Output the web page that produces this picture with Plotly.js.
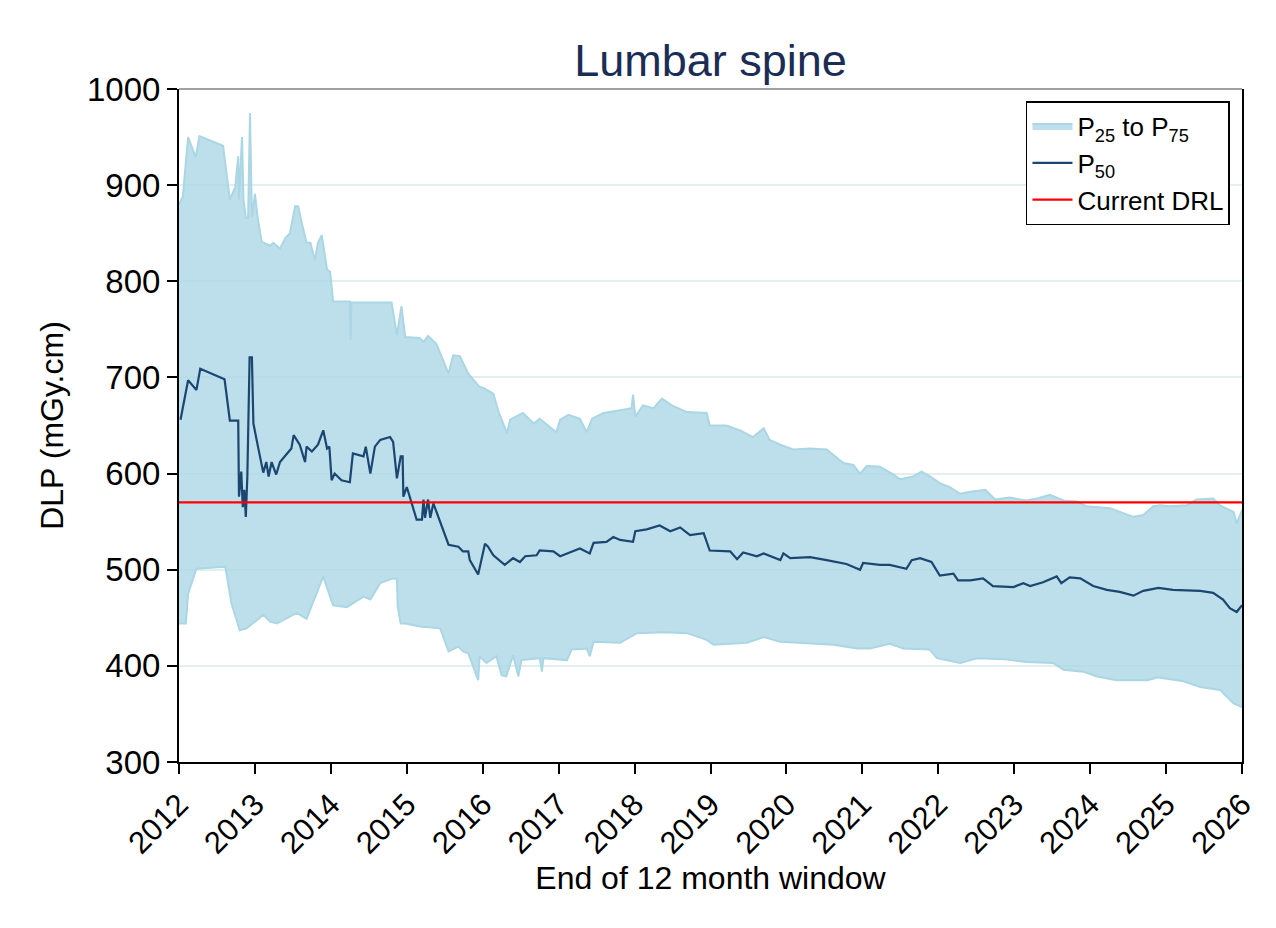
<!DOCTYPE html>
<html>
<head>
<meta charset="utf-8">
<script src="https://cdn.plot.ly/plotly-3.0.1.min.js"></script>
<style>
  html, body { margin: 0; padding: 0; background: #fff; }
  #plot { width: 1276px; height: 928px; }
</style>
</head>
<body>
<div id="plot"></div>
<script>
// values (x = decimal year at end of 12 month window)
const p75Years = [2012.00, 2012.05, 2012.12, 2012.22, 2012.27, 2012.58, 2012.67, 2012.74, 2012.78, 2012.79,
  2012.83, 2012.85, 2012.88, 2012.91, 2012.935, 2012.96, 2013.00, 2013.04, 2013.09, 2013.20,
  2013.24, 2013.33, 2013.40, 2013.46, 2013.53, 2013.57, 2013.62, 2013.68, 2013.73, 2013.79,
  2013.83, 2013.88, 2013.95, 2013.99, 2014.03, 2014.25, 2014.26, 2014.27, 2014.80, 2014.87,
  2014.93, 2014.98, 2015.17, 2015.22, 2015.28, 2015.39, 2015.55, 2015.61, 2015.70, 2015.81,
  2015.96, 2016.01, 2016.14, 2016.21, 2016.32, 2016.36, 2016.53, 2016.67, 2016.75, 2016.97,
  2017.02, 2017.13, 2017.28, 2017.37, 2017.44, 2017.59, 2017.81, 2017.96, 2017.98, 2018.01,
  2018.11, 2018.25, 2018.36, 2018.49, 2018.69, 2018.95, 2018.99, 2019.21, 2019.39, 2019.56,
  2019.70, 2019.78, 2019.92, 2020.09, 2020.31, 2020.53, 2020.75, 2020.88, 2020.97, 2021.06,
  2021.23, 2021.41, 2021.50, 2021.67, 2021.78, 2021.89, 2022.02, 2022.15, 2022.29, 2022.42,
  2022.62, 2022.75, 2022.94, 2023.16, 2023.30, 2023.47, 2023.65, 2023.82, 2023.95, 2024.17,
  2024.26, 2024.57, 2024.70, 2024.83, 2024.92, 2025.05, 2025.27, 2025.40, 2025.62, 2025.71,
  2025.89, 2025.93, 2026.00];
const p75Values = [880, 888, 950, 929, 951, 941, 885, 898, 930, 885,
  950, 885, 866, 866, 975, 867, 891, 864, 841, 837,
  840, 834, 845, 850, 878, 878, 860, 840, 840, 822,
  840, 848, 812, 810, 779, 779, 739, 778, 778, 744,
  774, 742, 741, 737, 743, 735, 704, 723, 722, 704,
  690, 689, 683, 664, 642, 656, 663, 652, 657, 643,
  656, 661, 657, 643, 657, 663, 666, 668, 682, 659,
  671, 668, 678, 671, 664, 663, 650, 650, 645, 638,
  647, 635, 630, 625, 626, 625, 611, 609, 600, 608,
  607, 599, 594, 597, 602, 597, 590, 586, 579, 581,
  583, 573, 575, 572, 574, 578, 572, 571, 566, 565,
  564, 555, 557, 566, 567, 566, 567, 573, 574, 567,
  560, 548, 562];

const p50Years = [2012.02, 2012.12, 2012.23, 2012.28, 2012.60, 2012.67, 2012.78, 2012.79, 2012.82, 2012.84,
  2012.86, 2012.88, 2012.90, 2012.93, 2012.96, 2012.98, 2013.04, 2013.11, 2013.15, 2013.18,
  2013.22, 2013.28, 2013.33, 2013.48, 2013.51, 2013.59, 2013.66, 2013.68, 2013.75, 2013.83,
  2013.90, 2013.95, 2013.98, 2014.01, 2014.05, 2014.14, 2014.25, 2014.29, 2014.43, 2014.46,
  2014.52, 2014.58, 2014.65, 2014.78, 2014.82, 2014.87, 2014.92, 2014.945, 2014.955, 2015.00,
  2015.13, 2015.20, 2015.22, 2015.24, 2015.28, 2015.31, 2015.35, 2015.55, 2015.68, 2015.74,
  2015.81, 2015.83, 2015.94, 2016.03, 2016.07, 2016.14, 2016.29, 2016.40, 2016.49, 2016.56,
  2016.71, 2016.75, 2016.93, 2017.02, 2017.28, 2017.41, 2017.46, 2017.63, 2017.72, 2017.81,
  2017.98, 2018.01, 2018.16, 2018.33, 2018.47, 2018.60, 2018.73, 2018.91, 2018.99, 2019.26,
  2019.35, 2019.43, 2019.61, 2019.70, 2019.92, 2019.96, 2020.05, 2020.31, 2020.53, 2020.79,
  2020.97, 2021.01, 2021.23, 2021.36, 2021.58, 2021.65, 2021.76, 2021.91, 2022.02, 2022.20,
  2022.26, 2022.42, 2022.59, 2022.72, 2022.99, 2023.12, 2023.21, 2023.38, 2023.56, 2023.62,
  2023.73, 2023.87, 2024.04, 2024.22, 2024.39, 2024.57, 2024.70, 2024.90, 2025.09, 2025.45,
  2025.62, 2025.75, 2025.84, 2025.93, 2026.00];
const p50Values = [656, 697, 687, 709, 698, 655, 655, 576, 602, 565,
  583, 555, 597, 721, 721, 652, 628, 601, 612, 597,
  612, 599, 612, 626, 640, 630, 612, 628, 623, 630,
  645, 626, 628, 593, 600, 593, 591, 621, 618, 628,
  600, 628, 635, 638, 633, 595, 618, 618, 576, 586,
  552, 552, 573, 554, 573, 554, 569, 526, 524, 519,
  519, 510, 495, 527, 524, 515, 505, 512, 508, 514,
  515, 520, 519, 514, 522, 517, 528, 529, 534, 531,
  529, 540, 542, 546, 540, 544, 536, 538, 520, 519,
  511, 518, 514, 517, 510, 517, 512, 513, 510, 506,
  500, 507, 505, 505, 501, 510, 512, 508, 494, 496,
  489, 489, 491, 483, 482, 486, 483, 487, 493, 486,
  492, 491, 483, 479, 477, 473, 478, 481, 479, 478,
  476, 469, 460, 456, 463];

const p25Years = [2012.00, 2012.09, 2012.12, 2012.23, 2012.61, 2012.69, 2012.80, 2012.89, 2013.11, 2013.20,
  2013.29, 2013.40, 2013.55, 2013.68, 2013.81, 2013.90, 2013.95, 2014.03, 2014.21, 2014.43,
  2014.52, 2014.65, 2014.82, 2014.87, 2014.88, 2014.92, 2014.98, 2015.17, 2015.44, 2015.55,
  2015.68, 2015.74, 2015.81, 2015.88, 2015.94, 2015.96, 2016.05, 2016.18, 2016.25, 2016.31,
  2016.40, 2016.47, 2016.51, 2016.75, 2016.78, 2016.80, 2017.11, 2017.17, 2017.37, 2017.41,
  2017.46, 2017.81, 2018.03, 2018.38, 2018.69, 2018.95, 2019.04, 2019.48, 2019.70, 2019.92,
  2020.18, 2020.62, 2020.93, 2021.10, 2021.36, 2021.54, 2021.89, 2021.98, 2022.29, 2022.51,
  2022.86, 2023.16, 2023.51, 2023.65, 2023.91, 2024.09, 2024.35, 2024.75, 2024.90, 2025.23,
  2025.45, 2025.71, 2025.89, 2026.00];
const p25Values = [444, 444, 475, 501, 503, 465, 437, 439, 453, 446,
  444, 449, 455, 449, 475, 493, 481, 463, 461, 472,
  469, 486, 491, 490, 462, 444, 444, 441, 439, 415,
  420, 415, 413, 399, 385, 410, 403, 410, 390, 389,
  411, 389, 406, 408, 394, 408, 406, 417, 418, 410,
  425, 424, 434, 435, 434, 427, 422, 424, 430, 425,
  424, 422, 418, 418, 423, 418, 417, 408, 403, 408,
  407, 404, 403, 396, 394, 389, 385, 385, 388, 384,
  378, 375, 361, 357];

const currentDRL = 570;
const drlYears = [2012, 2026];
const yearTicks = [2012, 2013, 2014, 2015, 2016, 2017, 2018, 2019, 2020, 2021, 2022, 2023, 2024, 2025, 2026];

const font = "Liberation Sans, Arial, sans-serif";

const lower = {
  type: "scatter",
  mode: "lines",
  x: p25Years,
  y: p25Values,
  line: {color: "#abd6e3", width: 2},
  showlegend: false,
  hoverinfo: "skip"
};

const upper = {
  type: "scatter",
  mode: "lines",
  x: p75Years,
  y: p75Values,
  fill: "tonexty",
  fillcolor: "rgba(173,216,230,0.82)",
  line: {color: "#abd6e3", width: 2},
  name: "P<sub>25</sub> to P<sub>75</sub>"
};

const median = {
  type: "scatter",
  mode: "lines",
  x: p50Years,
  y: p50Values,
  line: {color: "#1b4670", width: 2.2},
  name: "P<sub>50</sub>"
};

const drl = {
  type: "scatter",
  mode: "lines",
  x: drlYears,
  y: drlYears.map(() => currentDRL),
  line: {color: "#ff0000", width: 2.2},
  name: "Current DRL"
};

Plotly.newPlot("plot", [lower, upper, median, drl], {
  width: 1276,
  height: 928,
  margin: {l: 179, r: 34, t: 89, b: 166},
  paper_bgcolor: "#fff",
  plot_bgcolor: "#fff",
  font: {family: font, color: "#000", size: 32},
  title: {
    text: "Lumbar spine",
    font: {size: 45, color: "#1c2d55", family: font},
    x: 0.5,
    xref: "paper",
    y: 0.935,
    yanchor: "middle"
  },
  xaxis: {
    range: [2012, 2026],
    tickvals: yearTicks,
    ticktext: yearTicks.map(String),
    tickangle: -45,
    ticks: "outside",
    ticklen: 10,
    tickwidth: 2,
    tickcolor: "#000",
    showline: true,
    linecolor: "#000",
    linewidth: 2,
    showgrid: false,
    zeroline: false,
    tickfont: {size: 31},
    title: {text: "End of 12 month window", font: {size: 32}, standoff: 0}
  },
  yaxis: {
    range: [300, 1000],
    dtick: 100,
    ticks: "outside",
    ticklen: 10,
    tickwidth: 2,
    tickcolor: "#000",
    showline: true,
    mirror: true,
    linecolor: "#000",
    linewidth: 2,
    showgrid: true,
    gridcolor: "#e3eef1",
    gridwidth: 2,
    zeroline: false,
    tickfont: {size: 33},
    title: {text: "DLP (mGy.cm)", font: {size: 32}, standoff: 14}
  },
  legend: {
    x: 0.9887,
    xanchor: "right",
    y: 0.982,
    yanchor: "top",
    bgcolor: "#fff",
    bordercolor: "#000",
    borderwidth: 1.5,
    font: {size: 26, family: font},
    traceorder: "normal",
    itemwidth: 40,
    tracegroupgap: 0
  },
  shapes: [{
    type: "line", xref: "paper", yref: "paper",
    x0: 0, x1: 1, y0: 1, y1: 1,
    line: {color: "#808080", width: 1.5}
  }],
  showlegend: true
}, {displayModeBar: false});
</script>
</body>
</html>
